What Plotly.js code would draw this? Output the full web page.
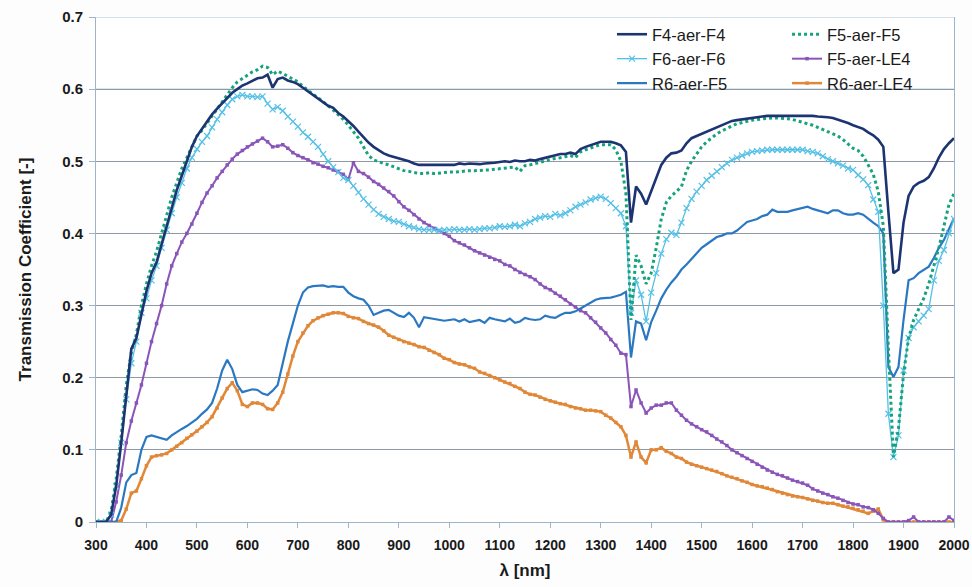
<!DOCTYPE html>
<html>
<head>
<meta charset="utf-8">
<script src="https://cdn.plot.ly/plotly-3.0.1.min.js"></script>
<style>html,body{margin:0;padding:0;background:#fdfdfe;}#chart{width:972px;height:587px;}</style>
</head>
<body>
<div id="chart"></div>
<script>
var wavelength = [
300,310,320,330,340,350,360,370,380,390,
400,410,420,430,440,450,460,470,480,490,
500,510,520,530,540,550,560,570,580,590,
600,610,620,630,640,650,660,670,680,690,
700,710,720,730,740,750,760,770,780,790,
800,810,820,830,840,850,860,870,880,890,
900,910,920,930,940,950,960,970,980,990,
1000,1010,1020,1030,1040,1050,1060,1070,1080,1090,
1100,1110,1120,1130,1140,1150,1160,1170,1180,1190,
1200,1210,1220,1230,1240,1250,1260,1270,1280,1290,
1300,1310,1320,1330,1340,1350,1360,1370,1380,1390,
1400,1410,1420,1430,1440,1450,1460,1470,1480,1490,
1500,1510,1520,1530,1540,1550,1560,1570,1580,1590,
1600,1610,1620,1630,1640,1650,1660,1670,1680,1690,
1700,1710,1720,1730,1740,1750,1760,1770,1780,1790,
1800,1810,1820,1830,1840,1850,1860,1870,1880,1890,
1900,1910,1920,1930,1940,1950,1960,1970,1980,1990,
2000];

var F4_aer_F4 = [
0,0,0,0.01,0.05,0.11,0.18,0.24,0.255,0.29,
0.32,0.345,0.36,0.385,0.41,0.435,0.46,0.48,0.5,0.52,
0.535,0.545,0.555,0.565,0.573,0.58,0.588,0.595,0.6,0.605,
0.608,0.612,0.615,0.616,0.62,0.602,0.614,0.616,0.612,0.61,
0.607,0.602,0.597,0.592,0.587,0.582,0.577,0.574,0.567,0.562,
0.556,0.549,0.541,0.533,0.526,0.52,0.515,0.511,0.508,0.506,
0.505,0.502,0.5,0.497,0.495,0.495,0.495,0.496,0.495,0.495,
0.496,0.495,0.497,0.496,0.497,0.496,0.496,0.497,0.497,0.498,
0.499,0.5,0.499,0.501,0.5,0.5,0.502,0.501,0.503,0.505,
0.507,0.509,0.51,0.51,0.512,0.51,0.517,0.52,0.522,0.525,
0.527,0.527,0.527,0.525,0.522,0.513,0.415,0.465,0.455,0.44,
0.458,0.478,0.495,0.505,0.511,0.512,0.515,0.525,0.532,0.535,
0.538,0.541,0.544,0.547,0.55,0.553,0.556,0.557,0.558,0.56,
0.561,0.562,0.562,0.563,0.563,0.563,0.564,0.564,0.563,0.564,
0.564,0.563,0.563,0.562,0.562,0.561,0.56,0.558,0.556,0.553,
0.55,0.548,0.545,0.54,0.536,0.53,0.52,0.43,0.345,0.35,
0.415,0.452,0.465,0.47,0.473,0.478,0.49,0.505,0.517,0.525,
0.532];

var F5_aer_F5 = [
0,0,0,0.015,0.06,0.12,0.19,0.235,0.26,0.3,
0.33,0.355,0.375,0.4,0.425,0.45,0.47,0.49,0.505,0.52,
0.535,0.543,0.553,0.563,0.573,0.583,0.593,0.602,0.61,0.615,
0.62,0.624,0.627,0.632,0.63,0.62,0.625,0.622,0.618,0.614,
0.61,0.604,0.598,0.593,0.588,0.583,0.577,0.571,0.565,0.558,
0.55,0.541,0.532,0.52,0.508,0.502,0.499,0.497,0.495,0.492,
0.489,0.487,0.486,0.484,0.483,0.483,0.484,0.483,0.484,0.484,
0.485,0.485,0.486,0.486,0.487,0.487,0.487,0.488,0.488,0.489,
0.49,0.49,0.491,0.492,0.486,0.494,0.495,0.497,0.498,0.5,
0.502,0.504,0.505,0.506,0.508,0.505,0.513,0.516,0.519,0.521,
0.523,0.523,0.523,0.516,0.5,0.455,0.28,0.37,0.355,0.33,
0.345,0.38,0.42,0.443,0.452,0.458,0.465,0.487,0.5,0.51,
0.52,0.527,0.533,0.538,0.542,0.546,0.549,0.552,0.554,0.556,
0.557,0.558,0.559,0.56,0.56,0.56,0.56,0.559,0.558,0.556,
0.555,0.553,0.55,0.547,0.544,0.541,0.539,0.535,0.53,0.524,
0.518,0.515,0.507,0.495,0.482,0.458,0.41,0.24,0.09,0.13,
0.205,0.255,0.28,0.295,0.31,0.33,0.355,0.38,0.41,0.44,
0.455];

var F6_aer_F6 = [
0,0,0,0.01,0.05,0.11,0.17,0.22,0.25,0.29,
0.31,0.335,0.355,0.38,0.405,0.428,0.45,0.47,0.49,0.505,
0.517,0.527,0.535,0.547,0.558,0.568,0.578,0.586,0.59,0.592,
0.59,0.59,0.589,0.59,0.58,0.572,0.575,0.57,0.562,0.555,
0.548,0.54,0.534,0.527,0.52,0.51,0.5,0.492,0.485,0.477,
0.474,0.466,0.457,0.448,0.44,0.433,0.427,0.423,0.42,0.417,
0.416,0.413,0.41,0.408,0.406,0.405,0.405,0.405,0.404,0.405,
0.405,0.406,0.405,0.405,0.406,0.405,0.406,0.407,0.407,0.408,
0.41,0.409,0.41,0.412,0.41,0.414,0.416,0.42,0.422,0.424,
0.423,0.427,0.425,0.428,0.432,0.437,0.44,0.443,0.447,0.449,
0.451,0.448,0.442,0.435,0.428,0.41,0.29,0.335,0.315,0.278,
0.318,0.345,0.372,0.392,0.401,0.398,0.415,0.435,0.448,0.458,
0.466,0.474,0.48,0.486,0.492,0.497,0.502,0.505,0.508,0.511,
0.513,0.514,0.515,0.516,0.516,0.516,0.516,0.516,0.516,0.516,
0.516,0.514,0.513,0.511,0.507,0.503,0.5,0.497,0.494,0.49,
0.488,0.481,0.475,0.467,0.447,0.43,0.3,0.15,0.09,0.12,
0.21,0.255,0.27,0.278,0.286,0.295,0.335,0.362,0.377,0.4,
0.42];

var F5_aer_LE4 = [
0,0,0,0,0.028,0.065,0.11,0.14,0.165,0.19,
0.22,0.25,0.275,0.3,0.33,0.355,0.372,0.388,0.4,0.413,
0.428,0.443,0.456,0.466,0.477,0.486,0.495,0.503,0.51,0.515,
0.52,0.524,0.528,0.532,0.527,0.52,0.521,0.523,0.518,0.512,
0.508,0.505,0.502,0.498,0.496,0.493,0.491,0.488,0.486,0.482,
0.475,0.498,0.486,0.483,0.478,0.472,0.468,0.463,0.458,0.452,
0.444,0.437,0.432,0.426,0.42,0.415,0.411,0.407,0.404,0.4,
0.396,0.39,0.387,0.384,0.38,0.376,0.373,0.37,0.367,0.364,
0.362,0.357,0.355,0.35,0.346,0.343,0.34,0.336,0.33,0.325,
0.322,0.317,0.313,0.308,0.302,0.298,0.293,0.29,0.283,0.277,
0.269,0.262,0.253,0.245,0.234,0.232,0.16,0.183,0.165,0.151,
0.158,0.162,0.162,0.165,0.165,0.155,0.148,0.141,0.136,0.132,
0.128,0.125,0.12,0.115,0.111,0.106,0.1,0.096,0.092,0.088,
0.084,0.08,0.076,0.072,0.069,0.066,0.064,0.061,0.058,0.056,
0.054,0.051,0.046,0.043,0.04,0.038,0.035,0.033,0.03,0.027,
0.025,0.024,0.021,0.02,0.017,0.012,0.005,0,0,0,
0,0.002,0.007,0,0,0,0,0,0,0.007,
0.002];

var R6_aer_F5 = [
0,0,0,0,0,0.02,0.055,0.065,0.068,0.1,
0.118,0.12,0.118,0.116,0.114,0.12,0.125,0.129,0.133,0.138,
0.143,0.15,0.156,0.165,0.185,0.21,0.225,0.212,0.19,0.18,
0.182,0.184,0.183,0.178,0.176,0.182,0.19,0.22,0.25,0.275,
0.3,0.318,0.325,0.327,0.327,0.328,0.326,0.327,0.326,0.326,
0.318,0.313,0.31,0.308,0.3,0.287,0.29,0.293,0.294,0.29,
0.286,0.284,0.29,0.283,0.27,0.284,0.283,0.282,0.28,0.279,
0.28,0.281,0.278,0.281,0.277,0.278,0.28,0.276,0.283,0.281,
0.279,0.278,0.282,0.276,0.278,0.283,0.281,0.28,0.281,0.286,
0.284,0.283,0.287,0.29,0.29,0.292,0.296,0.3,0.305,0.308,
0.31,0.31,0.311,0.313,0.315,0.319,0.228,0.278,0.275,0.252,
0.277,0.293,0.31,0.322,0.332,0.34,0.35,0.357,0.365,0.373,
0.38,0.385,0.39,0.395,0.397,0.4,0.4,0.404,0.41,0.416,
0.418,0.42,0.424,0.426,0.433,0.43,0.43,0.43,0.432,0.434,
0.435,0.437,0.434,0.432,0.43,0.428,0.432,0.432,0.428,0.426,
0.426,0.428,0.426,0.42,0.415,0.41,0.4,0.215,0.201,0.215,
0.28,0.335,0.338,0.345,0.35,0.354,0.366,0.38,0.391,0.405,
0.421];

var R6_aer_LE4 = [
0,0,0,0,0,0.002,0.018,0.04,0.043,0.06,
0.078,0.09,0.092,0.093,0.095,0.1,0.105,0.11,0.116,0.121,
0.126,0.132,0.138,0.146,0.158,0.172,0.185,0.193,0.182,0.163,
0.16,0.165,0.165,0.163,0.157,0.156,0.165,0.18,0.205,0.23,
0.25,0.262,0.272,0.279,0.283,0.286,0.288,0.29,0.29,0.289,
0.285,0.283,0.282,0.278,0.275,0.273,0.27,0.265,0.259,0.256,
0.253,0.25,0.248,0.246,0.243,0.242,0.238,0.235,0.232,0.227,
0.225,0.221,0.219,0.218,0.215,0.213,0.208,0.206,0.203,0.2,
0.197,0.194,0.192,0.188,0.185,0.18,0.177,0.176,0.173,0.17,
0.168,0.166,0.164,0.163,0.16,0.158,0.157,0.155,0.155,0.154,
0.153,0.148,0.144,0.138,0.132,0.12,0.09,0.111,0.09,0.082,
0.1,0.1,0.103,0.098,0.095,0.09,0.088,0.083,0.08,0.078,
0.076,0.074,0.072,0.07,0.067,0.064,0.062,0.06,0.057,0.055,
0.052,0.05,0.049,0.047,0.045,0.042,0.04,0.038,0.036,0.035,
0.034,0.032,0.03,0.029,0.027,0.026,0.026,0.024,0.022,0.021,
0.019,0.017,0.015,0.012,0.015,0.018,0.003,0,0,0,
0,0,0,0,0,0,0,0,0,0,
0];

var seriesNames = ['F4-aer-F4','F5-aer-F5','F6-aer-F6','F5-aer-LE4','R6-aer-F5','R6-aer-LE4'];
var yTicks = [0,0.1,0.2,0.3,0.4,0.5,0.6,0.7];
var yTickText = ['0','0.1','0.2','0.3','0.4','0.5','0.6','0.7'];
var xTicks = [300,400,500,600,700,800,900,1000,1100,1200,1300,1400,1500,1600,1700,1800,1900,2000];

var FONT = 'Liberation Sans, Arial, Helvetica, sans-serif';

var traces = [
  {x: wavelength, y: R6_aer_LE4, name: seriesNames[5], legend: 'legend2', mode: 'lines+markers',
   line: {color: '#e08838', width: 2.5}, marker: {symbol: 'square', size: 3.5, color: '#e08838'}},
  {x: wavelength, y: F5_aer_LE4, name: seriesNames[3], legend: 'legend2', mode: 'lines+markers',
   line: {color: '#8a55b8', width: 2}, marker: {symbol: 'square', size: 3.5, color: '#8a55b8'}},
  {x: wavelength, y: R6_aer_F5, name: seriesNames[4], legend: 'legend', mode: 'lines',
   line: {color: '#2a78c2', width: 2.2}},
  {x: wavelength, y: F6_aer_F6, name: seriesNames[2], legend: 'legend', mode: 'lines+markers',
   line: {color: '#55c0e6', width: 1.3}, marker: {symbol: 'x-thin-open', size: 6, color: '#55c0e6', line: {color: '#55c0e6', width: 1.2}}},
  {x: wavelength, y: F5_aer_F5, name: seriesNames[1], legend: 'legend2', mode: 'lines',
   line: {color: '#16a37c', width: 3, dash: 'dot'}},
  {x: wavelength, y: F4_aer_F4, name: seriesNames[0], legend: 'legend', mode: 'lines',
   line: {color: '#1d3472', width: 2.6}}
];

var legendCommon = {
  y: 1, yanchor: 'top', xanchor: 'left', bgcolor: 'rgba(0,0,0,0)', borderwidth: 0,
  font: {family: FONT, size: 16.5, color: '#1a1a1a'}, traceorder: 'reversed'
};

var layout = {
  width: 972, height: 587,
  margin: {l: 96, r: 18, t: 17, b: 65},
  paper_bgcolor: '#fdfdfe',
  plot_bgcolor: '#ffffff',
  showlegend: true,
  legend: Object.assign({x: 0.6014}, legendCommon),
  legend2: Object.assign({x: 0.8054}, legendCommon),
  xaxis: {
    range: [300, 2000], tickmode: 'array', tickvals: xTicks,
    showgrid: false, zeroline: false,
    showline: true, linecolor: '#9fb4c6', linewidth: 1,
    ticks: 'outside', ticklen: 5, tickcolor: '#9fb4c6',
    tickfont: {family: FONT, size: 14, color: '#1a1a1a', weight: 'bold'},
    ticklabelstandoff: 5,
    title: {text: 'λ [nm]', font: {family: FONT, size: 17, color: '#1a1a1a', weight: 'bold'}, standoff: 12}
  },
  yaxis: {
    range: [0, 0.7], tickmode: 'array', tickvals: yTicks, ticktext: yTickText,
    showgrid: true, gridcolor: '#8e99a3', gridwidth: 1, zeroline: false,
    showline: true, linecolor: '#9fb4c6', linewidth: 1, mirror: true,
    ticks: 'outside', ticklen: 6, tickcolor: '#9fb4c6',
    tickfont: {family: FONT, size: 15, color: '#1a1a1a', weight: 'bold'},
    ticklabelstandoff: 3,
    title: {text: 'Transmission Coefficient [-]', font: {family: FONT, size: 17, color: '#1a1a1a', weight: 'bold'}, standoff: 26}
  },
  shapes: [
    {type: 'line', xref: 'paper', x0: 0, x1: 1, yref: 'y', y0: 0.6, y1: 0.6, layer: 'below',
     line: {color: '#8cc4e2', width: 1}},
    {type: 'line', xref: 'paper', x0: 0, x1: 1, yref: 'y', y0: 0.7, y1: 0.7, layer: 'below',
     line: {color: '#a9c4d8', width: 1}}
  ]
};

Plotly.newPlot('chart', traces, layout, {displayModeBar: false, staticPlot: true});
</script>
</body>
</html>
